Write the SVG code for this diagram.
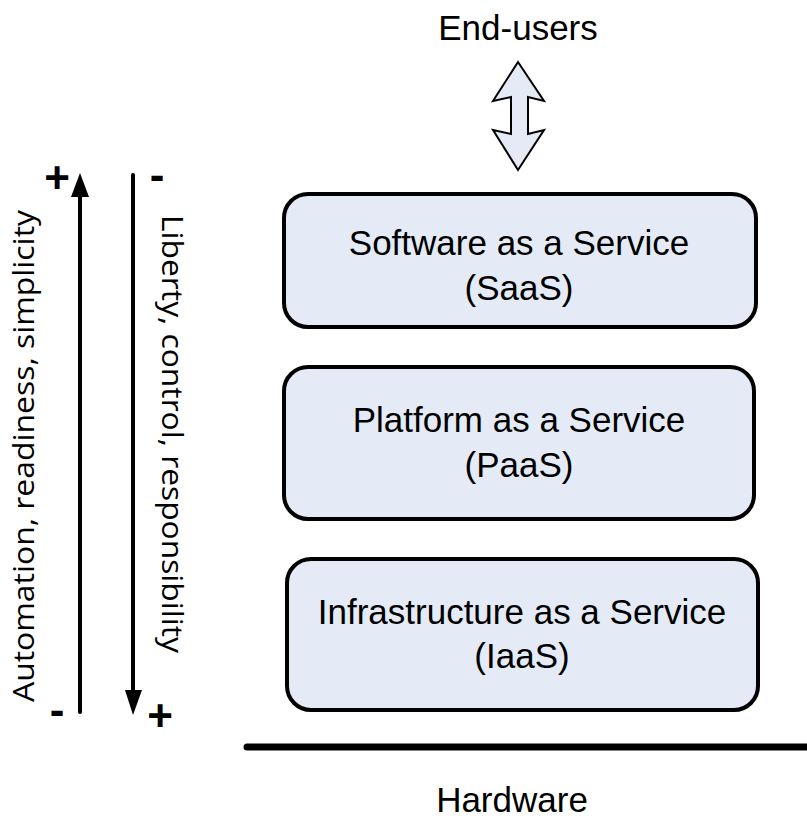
<svg xmlns="http://www.w3.org/2000/svg" width="807" height="819" viewBox="0 0 807 819">
<style>
.box{fill:#E4EBF6;stroke:#000;stroke-width:4}
.lbl{font-family:"Liberation Sans",Arial,sans-serif;font-size:35px;fill:#000;text-anchor:middle}
.side{font-family:"Open Sans","Noto Sans",sans-serif;font-size:29px;fill:#000;text-anchor:middle}
.sign{font-family:"Liberation Sans",Arial,sans-serif;font-size:44px;font-weight:bold;fill:#000;text-anchor:middle}
.ln{stroke:#000;stroke-width:4;stroke-linecap:round;fill:none}
</style>
<rect width="807" height="819" fill="#fff"/>
<g id="end-users">
<text class="lbl" x="518" y="40">End-users</text>
</g>
<g id="saas">
<rect class="box" x="284" y="194" width="472" height="133" rx="24"/>
<text class="lbl" x="519" y="255">Software as a Service</text>
<text class="lbl" x="519" y="300">(SaaS)</text>
</g>
<g id="paas">
<rect class="box" x="284" y="367" width="470" height="152" rx="24"/>
<text class="lbl" x="519" y="432">Platform as a Service</text>
<text class="lbl" x="519" y="477">(PaaS)</text>
</g>
<g id="iaas">
<rect class="box" x="287" y="559" width="471" height="151" rx="24"/>
<text class="lbl" x="522" y="624">Infrastructure as a Service</text>
<text class="lbl" x="522" y="668">(IaaS)</text>
</g>
<g id="hardware">
<line x1="247" y1="747" x2="810" y2="747" stroke="#000" stroke-width="7" stroke-linecap="round"/>
<text class="lbl" x="512" y="812">Hardware</text>
</g>
<g id="connectors">
<polygon points="518,62 544,101 528,97 528,134 544,130 518,170 493,130 511,134 511,97 493,101" fill="#E4EBF6" stroke="#000" stroke-width="2" stroke-linejoin="miter"/>
<line class="ln" x1="80" y1="192" x2="80" y2="712"/>
<polygon points="80,173 71,197 89,197" fill="#000"/>
<line class="ln" x1="133" y1="175" x2="133" y2="695"/>
<polygon points="133,715 125,690 142,690" fill="#000"/>
</g>
<g id="left-axis">
<text class="side" transform="translate(34,456) rotate(-90)" textLength="492" lengthAdjust="spacingAndGlyphs">Automation, readiness, simplicity</text>
<text class="sign" x="57" y="193">+</text>
<text class="sign" x="57" y="725">-</text>
</g>
<g id="right-axis">
<text class="side" transform="translate(162,434) rotate(90)" textLength="438" lengthAdjust="spacingAndGlyphs">Liberty, control, responsibility</text>
<text class="sign" x="157" y="190">-</text>
<text class="sign" x="160" y="731">+</text>
</g>
</svg>
